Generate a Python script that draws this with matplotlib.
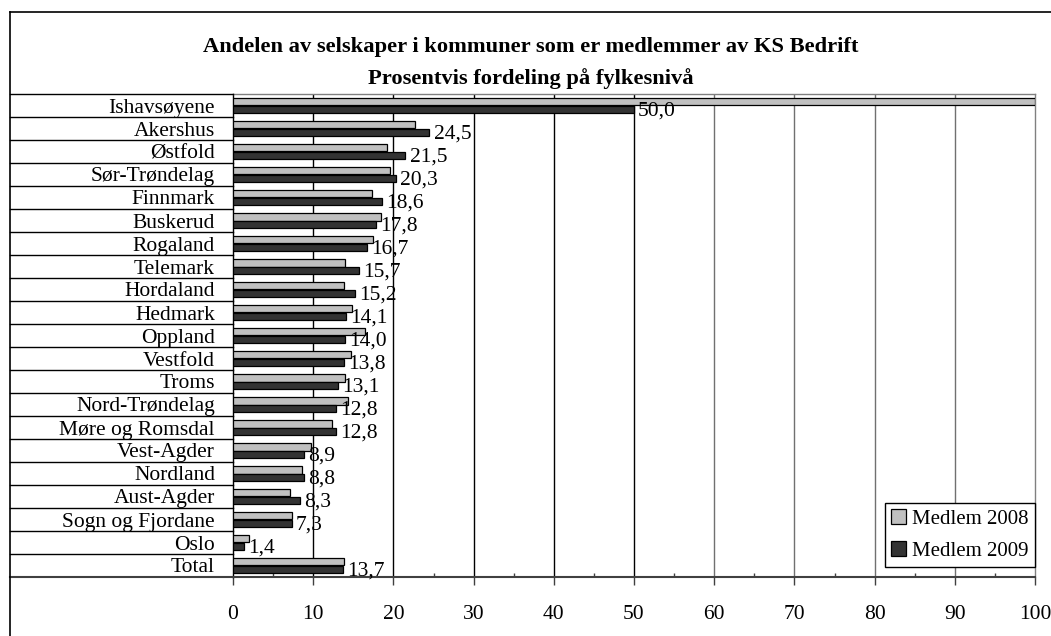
import matplotlib
matplotlib.use("Agg")
import matplotlib.pyplot as plt
from matplotlib.lines import Line2D
from matplotlib.patches import Patch
import matplotlib.transforms as mtransforms
import numpy as np

categories = ["Ishavsøyene", "Akershus", "Østfold", "Sør-Trøndelag", "Finnmark",
              "Buskerud", "Rogaland", "Telemark", "Hordaland", "Hedmark", "Oppland",
              "Vestfold", "Troms", "Nord-Trøndelag", "Møre og Romsdal", "Vest-Agder",
              "Nordland", "Aust-Agder", "Sogn og Fjordane", "Oslo", "Total"]
medlem_2008 = [100.0, 22.7, 19.2, 19.6, 17.3, 18.5, 17.4, 14.0, 13.8, 14.9, 16.5,
               14.7, 14.0, 14.4, 12.3, 9.7, 8.6, 7.1, 7.4, 2.0, 13.8]
medlem_2009 = [50.0, 24.5, 21.5, 20.3, 18.6, 17.8, 16.7, 15.7, 15.2, 14.1, 14.0,
               13.8, 13.1, 12.8, 12.8, 8.9, 8.8, 8.3, 7.3, 1.4, 13.7]
series_names = ["Medlem 2008", "Medlem 2009"]
x_ticks = [0, 10, 20, 30, 40, 50, 60, 70, 80, 90, 100]
title = "Andelen av selskaper i kommuner som er medlemmer av KS Bedrift\nProsentvis fordeling på fylkesnivå"

plt.rcParams['font.family'] = ['Liberation Serif', 'DejaVu Serif']

W, H = 1051, 636
fig = plt.figure(figsize=(W / 100, H / 100), dpi=100)
fig.patch.set_facecolor('white')

left_px, right_px, top_px, bottom_px = 233, 1035, 94, 577
ax = fig.add_axes([left_px / W, 1 - bottom_px / H, (right_px - left_px) / W, (bottom_px - top_px) / H])

FS = 15.5
n = len(categories)
y = np.arange(n)
h = 0.325
c08, c09 = '#C0C0C0', '#333333'
ax.barh(y - h / 2, medlem_2008, height=h, color=c08, edgecolor='black', linewidth=0.9, zorder=3)
ax.barh(y + h / 2, medlem_2009, height=h, color=c09, edgecolor='black', linewidth=0.9, zorder=3)

for i, v in enumerate(medlem_2009):
    ax.annotate(f"{v:.1f}".replace('.', ','), (v, i + h / 2), xytext=(3, -1.5),
                textcoords='offset points', ha='left', va='center', fontsize=FS, zorder=4)

ax.set_xlim(0, 100)
ax.set_ylim(n - 0.5, -0.5)
ax.set_xticks(x_ticks)
ax.set_xticks(np.arange(5, 100, 10), minor=True)
ax.set_yticks(y)
ax.set_yticklabels(categories, fontsize=FS)
ax.tick_params(axis='y', length=0, pad=13)
ax.tick_params(axis='x', which='major', direction='out', length=6, width=1, color='#404040',
               labelsize=FS, pad=14)
ax.tick_params(axis='x', which='minor', direction='in', length=3, width=1, color='#404040')

for xv in x_ticks[1:-1]:
    ax.axvline(xv, color='black' if xv <= 50 else '#707070', linewidth=1, zorder=1)

ax.spines['top'].set_color('#808080')
ax.spines['right'].set_color('#808080')
ax.spines['left'].set_color('black')
ax.spines['bottom'].set_color('#404040')
ax.spines['bottom'].set_linewidth(1.5)
for s in ['top', 'right', 'left']:
    ax.spines[s].set_linewidth(1)

# separators across label area
blend = mtransforms.blended_transform_factory(fig.transFigure, ax.transData)
for k in range(n + 1):
    yy = k - 0.5
    col = '#404040' if k == n else 'black'
    lw = 1.5 if k == n else 1
    fig.add_artist(Line2D([10 / W, left_px / W], [yy, yy], transform=blend, color=col,
                          linewidth=lw, clip_on=False))

# figure frame
fig.add_artist(Line2D([10 / W, 1.0], [1 - 12 / H, 1 - 12 / H], transform=fig.transFigure,
                      color='black', linewidth=1.2))
fig.add_artist(Line2D([10 / W, 10 / W], [0, 1 - 12 / H], transform=fig.transFigure,
                      color='black', linewidth=1.2))

fig.text(531 / W, 1 - 63 / H, title, ha='center', va='center', fontsize=16.2,
         fontweight='bold', linespacing=1.7)

handles = [Patch(facecolor=c08, edgecolor='black', linewidth=0.9),
           Patch(facecolor=c09, edgecolor='black', linewidth=0.9)]
leg = ax.legend(handles, series_names, loc='lower right', bbox_to_anchor=(1.0, 10 / 483),
                borderaxespad=0, fancybox=False, framealpha=1, edgecolor='black',
                fontsize=15, handlelength=0.72, handleheight=0.72, handletextpad=0.3,
                labelspacing=0.6, borderpad=0.3)
leg.get_frame().set_linewidth(1)
leg.set_zorder(5)

fig.savefig('out.png', dpi=100)
